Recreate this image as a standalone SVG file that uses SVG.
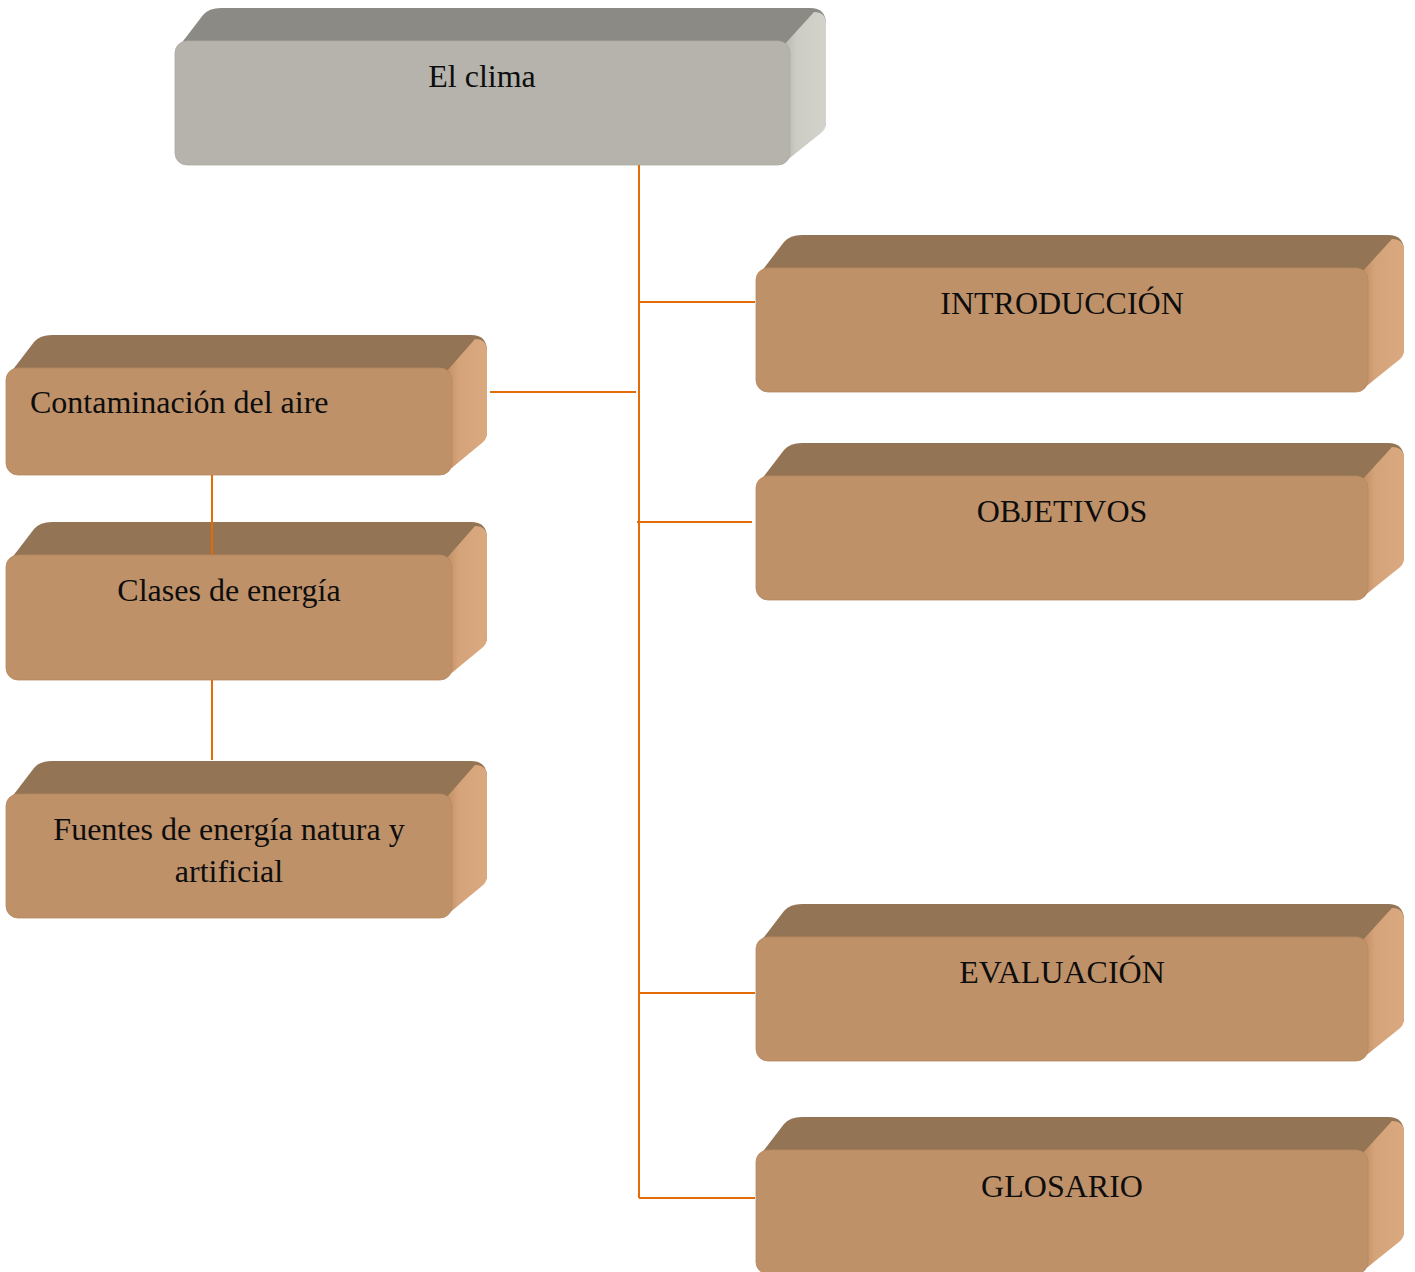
<svg xmlns="http://www.w3.org/2000/svg" width="1415" height="1272" viewBox="0 0 1415 1272">
<defs>
<style>
.bt{fill:#937455}
.bs{fill:url(#gBrownSide)}
.bf{fill:#BF9169;stroke:#B88961;stroke-width:0.8}
.gt{fill:#8B8A84}
.gs{fill:url(#gGraySide)}
.gf{fill:#B5B3AC;stroke:#ABA9A2;stroke-width:0.8}
.lbl{font-family:"Liberation Serif","Times New Roman",serif;font-size:32px;fill:#0d0d0d}
.c{text-anchor:middle}
.conn{stroke:#E36C09;stroke-width:2;fill:none}
</style>
<linearGradient id="gBrownSide" x1="0" y1="0" x2="1" y2="0">
<stop offset="0" stop-color="#C08D63"/>
<stop offset="0.3" stop-color="#D5A379"/>
<stop offset="1" stop-color="#DBA97F"/>
</linearGradient>
<linearGradient id="gGraySide" x1="0" y1="0" x2="1" y2="0">
<stop offset="0" stop-color="#B9B7B0"/>
<stop offset="0.3" stop-color="#CCCBC4"/>
<stop offset="1" stop-color="#D3D2CB"/>
</linearGradient>
</defs>
<rect width="1415" height="1272" fill="#fff"/>

<g id="node-clima" transform="translate(175,41)">
<path class="gt" d="M2,8 L28,-26 Q34,-33 46,-33 L635,-33 Q651,-33 651,-17 L651,84 L611,120 L12,12 Z"/>
<path class="gs" d="M609,4 L639,-29 Q651,-29 651,-17 L651,82 Q651,88 646,92 L611,120 Z"/>
<rect class="gf" x="0" y="0" width="615" height="124" rx="12"/>
<text class="lbl c" x="307" y="46">El clima</text>
</g>

<g id="node-introduccion" transform="translate(756,268)">
<path class="bt" d="M2,8 L28,-26 Q34,-33 46,-33 L632,-33 Q648,-33 648,-17 L648,84 L608,120 L12,12 Z"/>
<path class="bs" d="M606,4 L636,-29 Q648,-29 648,-17 L648,82 Q648,88 643,92 L608,120 Z"/>
<rect class="bf" x="0" y="0" width="612" height="124" rx="12"/>
<text class="lbl c" x="306" y="46">INTRODUCCIÓN</text>
</g>

<g id="node-objetivos" transform="translate(756,476)">
<path class="bt" d="M2,8 L28,-26 Q34,-33 46,-33 L632,-33 Q648,-33 648,-17 L648,84 L608,120 L12,12 Z"/>
<path class="bs" d="M606,4 L636,-29 Q648,-29 648,-17 L648,82 Q648,88 643,92 L608,120 Z"/>
<rect class="bf" x="0" y="0" width="612" height="124" rx="12"/>
<text class="lbl c" x="306" y="46">OBJETIVOS</text>
</g>

<g id="node-evaluacion" transform="translate(756,937)">
<path class="bt" d="M2,8 L28,-26 Q34,-33 46,-33 L632,-33 Q648,-33 648,-17 L648,84 L608,120 L12,12 Z"/>
<path class="bs" d="M606,4 L636,-29 Q648,-29 648,-17 L648,82 Q648,88 643,92 L608,120 Z"/>
<rect class="bf" x="0" y="0" width="612" height="124" rx="12"/>
<text class="lbl c" x="306" y="46">EVALUACIÓN</text>
</g>

<g id="node-glosario" transform="translate(756,1150)">
<path class="bt" d="M2,8 L28,-26 Q34,-33 46,-33 L632,-33 Q648,-33 648,-17 L648,84 L608,120 L12,12 Z"/>
<path class="bs" d="M606,4 L636,-29 Q648,-29 648,-17 L648,82 Q648,88 643,92 L608,120 Z"/>
<rect class="bf" x="0" y="0" width="612" height="124" rx="12"/>
<text class="lbl c" x="306" y="47">GLOSARIO</text>
</g>

<g id="node-contaminacion" transform="translate(6,368)">
<path class="bt" d="M2,8 L28,-26 Q34,-33 46,-33 L465,-33 Q481,-33 481,-17 L481,67 L442,103 L12,12 Z"/>
<path class="bs" d="M440,4 L469,-29 Q481,-29 481,-17 L481,65 Q481,71 476,75 L442,103 Z"/>
<rect class="bf" x="0" y="0" width="446" height="107" rx="12"/>
<text class="lbl" x="24" y="45">Contaminación del aire</text>
</g>

<g id="node-clases" transform="translate(6,555)">
<path class="bt" d="M2,8 L28,-26 Q34,-33 46,-33 L465,-33 Q481,-33 481,-17 L481,85 L442,121 L12,12 Z"/>
<path class="bs" d="M440,4 L469,-29 Q481,-29 481,-17 L481,83 Q481,89 476,93 L442,121 Z"/>
<rect class="bf" x="0" y="0" width="446" height="125" rx="12"/>
<text class="lbl c" x="223" y="46">Clases de energía</text>
</g>

<g id="node-fuentes" transform="translate(6,794)">
<path class="bt" d="M2,8 L28,-26 Q34,-33 46,-33 L465,-33 Q481,-33 481,-17 L481,84 L442,120 L12,12 Z"/>
<path class="bs" d="M440,4 L469,-29 Q481,-29 481,-17 L481,82 Q481,88 476,92 L442,120 Z"/>
<rect class="bf" x="0" y="0" width="446" height="124" rx="12"/>
<text class="lbl c" x="223" y="46">Fuentes de energía natura y</text>
<text class="lbl c" x="223" y="88">artificial</text>
</g>

<g id="connectors">
<path class="conn" d="M639,165 V1198"/>
<path class="conn" d="M639,302 H755"/>
<path class="conn" d="M490,392 H636"/>
<path class="conn" d="M637,522 H752"/>
<path class="conn" d="M639,993 H755"/>
<path class="conn" d="M639,1198 H755"/>
<path class="conn" d="M212,475 V555"/>
<path class="conn" d="M212,680 V760"/>
</g>
</svg>
